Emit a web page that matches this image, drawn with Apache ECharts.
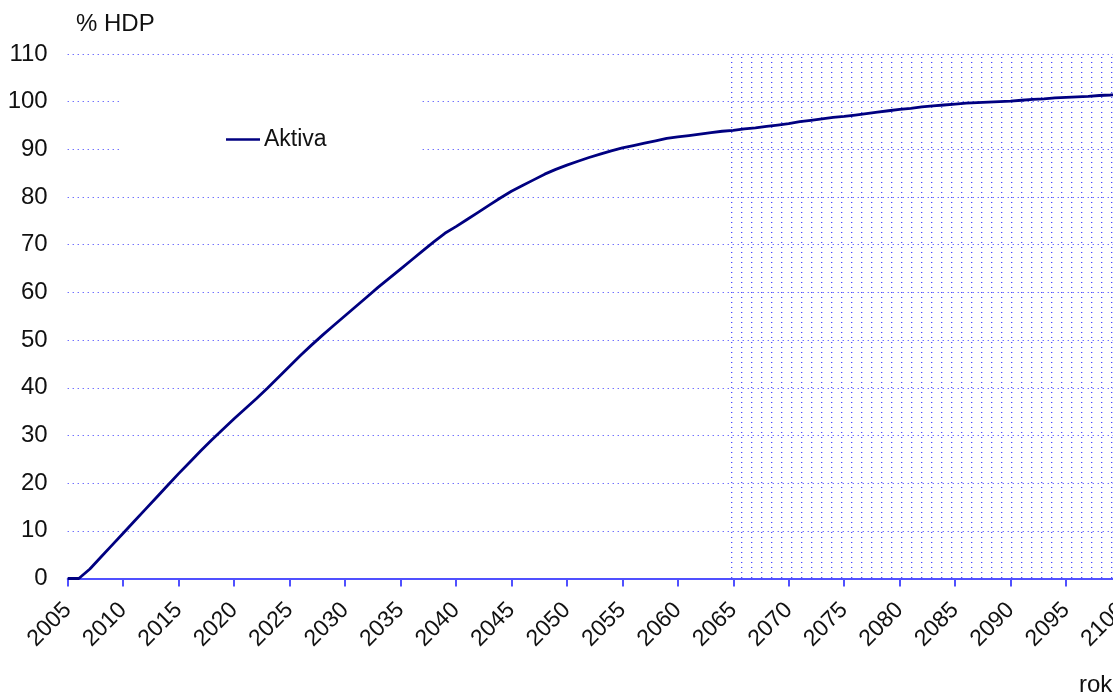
<!DOCTYPE html>
<html>
<head>
<meta charset="utf-8">
<script src="https://cdn.jsdelivr.net/npm/echarts@6/dist/echarts.min.js"></script>
<style>
  html, body { margin: 0; padding: 0; background: #fff; }
  #chart { width: 1113px; height: 695px; }
</style>
</head>
<body>
<div id="chart"></div>
<script>
// Assets of the pension fund as a share of GDP, by year
const years = [
  2005, 2006, 2007, 2008, 2009, 2010, 2011, 2012, 2013, 2014,
  2015, 2016, 2017, 2018, 2019, 2020, 2021, 2022, 2023, 2024,
  2025, 2026, 2027, 2028, 2029, 2030, 2031, 2032, 2033, 2034,
  2035, 2036, 2037, 2038, 2039, 2040, 2041, 2042, 2043, 2044,
  2045, 2046, 2047, 2048, 2049, 2050, 2051, 2052, 2053, 2054,
  2055, 2056, 2057, 2058, 2059, 2060, 2061, 2062, 2063, 2064,
  2065, 2066, 2067, 2068, 2069, 2070, 2071, 2072, 2073, 2074,
  2075, 2076, 2077, 2078, 2079, 2080, 2081, 2082, 2083, 2084,
  2085, 2086, 2087, 2088, 2089, 2090, 2091, 2092, 2093, 2094,
  2095, 2096, 2097, 2098, 2099, 2100
];
const aktiva = [
  0.0, 0.0, 2.0, 4.5, 7.0, 9.5, 12.0, 14.5, 17.0, 19.5,
  22.0, 24.4, 26.8, 29.1, 31.3, 33.5, 35.6, 37.7, 39.9, 42.2,
  44.5, 46.8, 49.0, 51.1, 53.1, 55.1, 57.1, 59.1, 61.1, 63.0,
  64.9, 66.8, 68.7, 70.6, 72.4, 73.8, 75.3, 76.8, 78.3, 79.8,
  81.2, 82.4, 83.6, 84.8, 85.8, 86.7, 87.5, 88.3, 89.0, 89.7,
  90.3, 90.8, 91.3, 91.8, 92.3, 92.6, 92.9, 93.2, 93.5, 93.8,
  94.0, 94.3, 94.5, 94.8, 95.1, 95.4, 95.8, 96.1, 96.4, 96.7,
  96.9, 97.2, 97.5, 97.8, 98.1, 98.4, 98.6, 98.9, 99.1, 99.3,
  99.5, 99.7, 99.8, 99.9, 100.0, 100.1, 100.3, 100.5, 100.6, 100.8,
  100.9, 101.0, 101.1, 101.3, 101.4, 101.6
];
// Projection period highlighted with a dotted fill
const shadeYears = [2064.7, 2100];
const yRange = [0, 110];
const seriesName = 'Aktiva';

const FONT = '"Liberation Sans", Arial, sans-serif';
const AXIS_BLUE = '#5050ff';

// small tile with a single dot, repeated to fill the projection band
function dotPattern() {
  const c = document.createElement('canvas');
  c.width = 10; c.height = 5;
  const ctx = c.getContext('2d');
  ctx.fillStyle = '#4848ff';
  ctx.fillRect(1, 2, 1, 1);
  ctx.fillStyle = 'rgba(90, 90, 255, 0.35)';
  ctx.fillRect(2, 2, 1, 1);
  return c;
}

const chart = echarts.init(document.getElementById('chart'), null, { renderer: 'canvas' });

chart.setOption({
  animation: false,
  backgroundColor: '#ffffff',
  textStyle: { fontFamily: FONT },
  title: {
    text: '% HDP',
    left: 71, top: 7,
    textStyle: { fontFamily: FONT, fontSize: 24, fontWeight: 'normal', color: '#111' }
  },
  legend: {
    data: [seriesName],
    left: 119, top: 94,
    padding: [34, 94, 34, 107],
    backgroundColor: '#ffffff',
    icon: 'rect',
    itemWidth: 34, itemHeight: 2.5,
    itemGap: 6,
    textStyle: { fontFamily: FONT, fontSize: 23, color: '#111', padding: [0, 0, 0, -1] }
  },
  grid: {
    left: 67.7, top: 54, width: 1053.8, height: 524.5,
    containLabel: false, outerBoundsMode: 'none'
  },
  xAxis: {
    type: 'value',
    min: 2005, max: 2100, interval: 5,
    axisLine: { show: true, lineStyle: { color: AXIS_BLUE, width: 2 } },
    axisTick: { show: true, length: 8, lineStyle: { color: AXIS_BLUE, width: 2 } },
    axisLabel: {
      rotate: 45, margin: 28,
      fontFamily: FONT, fontSize: 23, color: '#111',
      formatter: v => String(v)
    },
    splitLine: { show: false }
  },
  yAxis: {
    type: 'value',
    min: yRange[0], max: yRange[1], interval: 10,
    axisLine: { show: false },
    axisTick: { show: false },
    axisLabel: { margin: 20, fontFamily: FONT, fontSize: 24, color: '#111' },
    splitLine: { show: true, lineStyle: { color: '#3535ff', width: 1.2, type: [1, 4] } }
  },
  graphic: [{
    type: 'text',
    left: 1079, top: 673,
    style: { text: 'rok', font: '24px ' + FONT, fill: '#111' }
  }],
  series: [{
    name: seriesName,
    type: 'line',
    data: years.map((y, i) => [y, aktiva[i]]),
    showSymbol: false,
    symbol: 'none',
    lineStyle: { color: '#000080', width: 2.8 },
    itemStyle: { color: '#000080' },
    z: 5,
    markArea: {
      silent: true,
      itemStyle: { color: { image: dotPattern(), repeat: 'repeat' }, opacity: 1 },
      data: [[
        { xAxis: shadeYears[0], yAxis: yRange[0] },
        { xAxis: shadeYears[1], yAxis: yRange[1] }
      ]]
    }
  }]
});
</script>
</body>
</html>
